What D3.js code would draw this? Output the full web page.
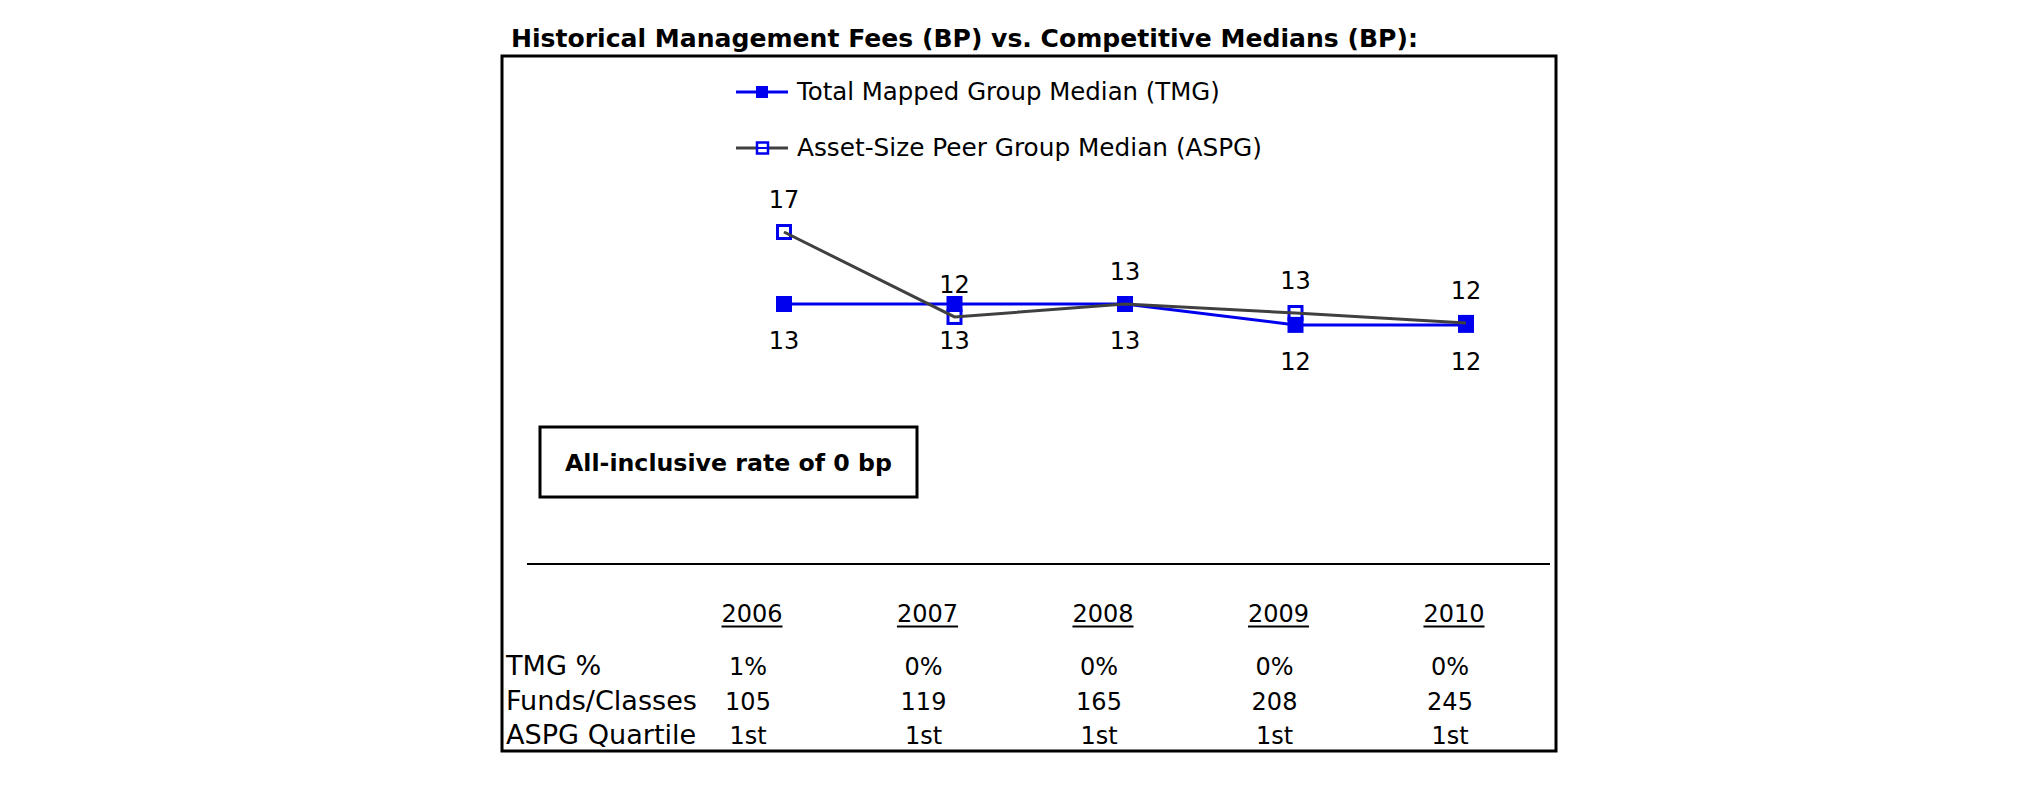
<!DOCTYPE html>
<html>
<head>
<meta charset="utf-8">
<script src="https://cdn.jsdelivr.net/npm/d3@7"></script>
<style>
  html, body { margin: 0; padding: 0; background: #fff; }
  svg { display: block; }
  text { font-family: "DejaVu Sans", Verdana, sans-serif; fill: #000; }
</style>
</head>
<body>
<script>
// ---------- data ----------
const titleText = "Historical Management Fees (BP) vs. Competitive Medians (BP):";
const years = ["2006", "2007", "2008", "2009", "2010"];
const seriesNames = ["Total Mapped Group Median (TMG)", "Asset-Size Peer Group Median (ASPG)"];
const tmgValues = [13, 13, 13, 11.84, 11.84];
const aspgValues = [17, 12.28, 13, 12.5, 11.95];
const noteText = "All-inclusive rate of 0 bp";
const rowLabels = ["TMG %", "Funds/Classes", "ASPG Quartile"];
const tmgPct = ["1%", "0%", "0%", "0%", "0%"];
const fundsClasses = ["105", "119", "165", "208", "245"];
const aspgQuartile = ["1st", "1st", "1st", "1st", "1st"];

const W = 2025, H = 806;
const BLUE = "#0000ee", GRAY = "#404040";

const svg = d3.select("body").append("svg").attr("width", W).attr("height", H);

function fit(sel, target) {
  const n = sel.node();
  const fs = parseFloat(sel.attr("font-size"));
  const w = n.getComputedTextLength();
  if (w > 0) sel.attr("font-size", (fs * target / w).toFixed(2));
  return sel;
}

// ---------- title ----------
fit(svg.append("text").attr("x", 511).attr("y", 47)
  .attr("font-size", 23).attr("font-weight", "bold").text(titleText), 907);

// ---------- frame ----------
svg.append("rect").attr("x", 502).attr("y", 56).attr("width", 1054).attr("height", 695)
  .attr("fill", "none").attr("stroke", "#000").attr("stroke-width", 3);

// ---------- scales ----------
const x = d3.scalePoint().domain(years).range([784, 1466]);
const y = d3.scaleLinear().domain([0, 20]).range([538, 178]);

const line = d3.line().x((d, i) => x(years[i])).y(d => y(d));

// TMG line
svg.append("path").datum(tmgValues).attr("d", line)
  .attr("fill", "none").attr("stroke", BLUE).attr("stroke-width", 3);
// ASPG markers
svg.selectAll(".aspgm").data(aspgValues).join("rect").attr("class", "aspgm")
  .attr("x", (d, i) => x(years[i]) - 6.5).attr("y", d => y(d) - 6.5)
  .attr("width", 13).attr("height", 13).attr("fill", "#fff")
  .attr("stroke", BLUE).attr("stroke-width", 3);
// TMG markers
svg.selectAll(".tmgm").data(tmgValues).join("rect").attr("class", "tmgm")
  .attr("x", (d, i) => x(years[i]) - 8).attr("y", d => y(d) - 8)
  .attr("width", 16).attr("height", 16).attr("fill", BLUE);
// ASPG line on top
svg.append("path").datum(aspgValues).attr("d", line)
  .attr("fill", "none").attr("stroke", GRAY).attr("stroke-width", 3);

// data labels
svg.selectAll(".aspgl").data(aspgValues).join("text").attr("class", "aspgl")
  .attr("x", (d, i) => x(years[i])).attr("y", d => y(d) - 24)
  .attr("text-anchor", "middle").attr("font-size", 24).text(d => Math.round(d));
svg.selectAll(".tmgl").data(tmgValues).join("text").attr("class", "tmgl")
  .attr("x", (d, i) => x(years[i])).attr("y", d => y(d) + 45)
  .attr("text-anchor", "middle").attr("font-size", 24).text(d => Math.round(d));

// ---------- legend ----------
const lg = [{ y: 92, c: BLUE, filled: true }, { y: 148, c: GRAY, filled: false }];
lg.forEach((l, i) => {
  svg.append("line").attr("x1", 736).attr("x2", 788).attr("y1", l.y).attr("y2", l.y)
    .attr("stroke", l.c).attr("stroke-width", 3);
  if (l.filled) {
    svg.append("rect").attr("x", 756).attr("y", l.y - 6).attr("width", 12).attr("height", 12).attr("fill", BLUE);
  } else {
    svg.append("rect").attr("x", 757).attr("y", l.y - 5.5).attr("width", 11).attr("height", 11)
      .attr("fill", "#fff").attr("stroke", BLUE).attr("stroke-width", 2.5);
    svg.append("line").attr("x1", 757).attr("x2", 768).attr("y1", l.y).attr("y2", l.y)
      .attr("stroke", BLUE).attr("stroke-width", 2);
  }
  fit(svg.append("text").attr("x", 797).attr("y", l.y + 7.5).attr("font-size", 20)
    .text(seriesNames[i]), i === 0 ? 423 : 465);
});

// ---------- note box ----------
svg.append("rect").attr("x", 540).attr("y", 427).attr("width", 377).attr("height", 70)
  .attr("fill", "none").attr("stroke", "#000").attr("stroke-width", 3);
fit(svg.append("text").attr("x", 728.5).attr("y", 471).attr("text-anchor", "middle")
  .attr("font-size", 21).attr("font-weight", "bold").text(noteText), 327);

// ---------- separator ----------
svg.append("line").attr("x1", 527).attr("x2", 1550).attr("y1", 564).attr("y2", 564)
  .attr("stroke", "#000").attr("stroke-width", 2);

// ---------- table ----------
const tx = d3.scalePoint().domain(years).range([752, 1454]);
const yrs = svg.selectAll(".yr").data(years).join("text").attr("class", "yr")
  .attr("x", d => tx(d)).attr("y", 622).attr("text-anchor", "middle")
  .attr("font-size", 24).text(d => d);
yrs.each(function (d) {
  const bb = this.getBBox();
  svg.append("line").attr("x1", bb.x).attr("x2", bb.x + bb.width)
    .attr("y1", 626.5).attr("y2", 626.5).attr("stroke", "#000").attr("stroke-width", 2);
});

const rows = [tmgPct, fundsClasses, aspgQuartile];
const rowY = [675, 710, 744];
const probe = fit(svg.append("text").attr("font-size", 24).text(rowLabels[1]), 191);
const rowFs = probe.attr("font-size");
probe.remove();
rows.forEach((r, ri) => {
  svg.append("text").attr("x", 506).attr("y", rowY[ri]).attr("font-size", rowFs).text(rowLabels[ri]);
  svg.selectAll(".r" + ri).data(r).join("text").attr("class", "r" + ri)
    .attr("x", (d, i) => tx(years[i]) - 4).attr("y", rowY[ri]).attr("text-anchor", "middle")
    .attr("font-size", 24).text(d => d);
});
</script>
</body>
</html>
